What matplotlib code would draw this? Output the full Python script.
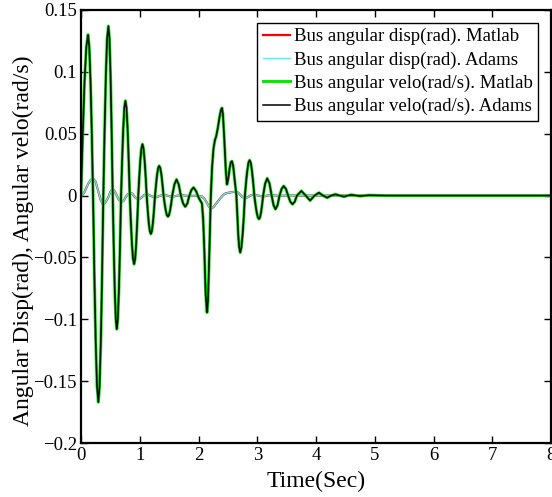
import matplotlib
matplotlib.use("Agg")
import matplotlib.pyplot as plt

# ---- data ----
velo_t = [0.000, 0.030, 0.060, 0.090, 0.120, 0.141, 0.1625, 0.184, 0.205,
          0.2275, 0.250, 0.2725, 0.295, 0.316, 0.3375, 0.359, 0.380,
          0.4015, 0.423, 0.4445, 0.466, 0.4845, 0.503, 0.5215, 0.540,
          0.557, 0.5745, 0.592, 0.609, 0.627, 0.6455, 0.664, 0.682,
          0.7005, 0.719, 0.7375, 0.756, 0.7745, 0.793, 0.8115, 0.830,
          0.8485, 0.867, 0.8855, 0.904, 0.922, 0.9395, 0.957, 0.975,
          0.993, 1.0105, 1.028, 1.046, 1.064, 1.082, 1.100, 1.118,
          1.136, 1.1535, 1.171, 1.189, 1.207, 1.2245, 1.242, 1.260,
          1.278, 1.2955, 1.313, 1.331, 1.3495, 1.368, 1.3865, 1.405,
          1.424, 1.4425, 1.461, 1.480, 1.498, 1.5165, 1.535, 1.553,
          1.590, 1.626, 1.663, 1.700, 1.738, 1.775, 1.810, 1.845,
          1.880, 1.916, 1.960, 2.000, 2.030, 2.060,
          2.080, 2.100, 2.122, 2.145, 2.162, 2.180, 2.195, 2.210,
          2.230, 2.255, 2.280, 2.300, 2.330, 2.360, 2.385, 2.400,
          2.415, 2.440, 2.465, 2.485, 2.505, 2.530, 2.550, 2.570,
          2.590, 2.610, 2.628, 2.645, 2.662, 2.677, 2.693, 2.710,
          2.730, 2.750, 2.770, 2.790, 2.810, 2.830, 2.850, 2.870,
          2.890, 2.910, 2.930, 2.950, 2.970, 2.990, 3.010, 3.030,
          3.048, 3.065, 3.083, 3.100, 3.135, 3.170, 3.208, 3.245,
          3.278, 3.310, 3.345, 3.380, 3.415, 3.450, 3.488, 3.525,
          3.563, 3.600, 3.638, 3.675, 3.750, 3.825, 3.900, 3.975,
          4.050, 4.120, 4.190, 4.260, 4.330, 4.405, 4.480, 4.540,
          4.600, 4.750, 4.900, 5.200, 8.000]
velo_v = [0.000, 0.050, 0.092, 0.120, 0.130, 0.120, 0.092, 0.050, 0.000,
          -0.064, -0.118, -0.154, -0.167, -0.154, -0.118, -0.064, 0.000,
          0.052, 0.097, 0.127, 0.137, 0.127, 0.097, 0.052, 0.000,
          -0.041, -0.076, -0.100, -0.108, -0.100, -0.076, -0.041, 0.000,
          0.029, 0.054, 0.071, 0.0766, 0.071, 0.054, 0.029, 0.000,
          -0.021, -0.039, -0.051, -0.0554, -0.051, -0.039, -0.021, 0.000,
          0.016, 0.029, 0.038, 0.0415, 0.038, 0.029, 0.016, 0.000,
          -0.012, -0.022, -0.0286, -0.031, -0.0286, -0.022, -0.012, 0.000,
          0.0092, 0.017, 0.0222, 0.024, 0.0222, 0.017, 0.0092, 0.000,
          -0.0065, -0.012, -0.0157, -0.017, -0.0157, -0.012, -0.0065, 0.000,
          0.009, 0.013, 0.009, 0.000, -0.0064, -0.009, -0.0064, 0.000,
          0.0046, 0.0065, 0.0035, -0.0015, -0.004, -0.0065,
          -0.020, -0.045, -0.080, -0.0945, -0.085, -0.055, -0.028, 0.000,
          0.022, 0.038, 0.045, 0.0475, 0.055, 0.064, 0.0695, 0.0708,
          0.066, 0.045, 0.020, 0.009, 0.013, 0.022, 0.027, 0.0278,
          0.024, 0.015, 0.007, 0.000, -0.018, -0.032, -0.042, -0.046,
          -0.042, -0.032, -0.018, 0.000, 0.011, 0.020, 0.0265, 0.0286,
          0.0265, 0.020, 0.011, 0.000, -0.0073, -0.0134, -0.0176, -0.019,
          -0.0176, -0.0134, -0.0073, 0.000, 0.0098, 0.0139, 0.0098, 0.000,
          -0.0078, -0.011, -0.0078, 0.000, 0.0054, 0.0077, 0.0054, 0.000,
          -0.005, -0.007, -0.005, 0.000, 0.0037, 0.000, -0.004, 0.000,
          0.0023, 0.000, -0.0017, 0.000, 0.001, 0.000, -0.0009, 0.000,
          0.0006, -0.0004, 0.0003, 0.000, 0.000]

disp_t = [0.000, 0.030, 0.060, 0.090, 0.120, 0.163, 0.205, 0.250, 0.295, 0.338,
          0.380, 0.423, 0.466, 0.503, 0.545, 0.575, 0.609, 0.645, 0.700, 0.730,
          0.756, 0.793, 0.850, 0.875, 0.904, 0.940, 0.990, 1.020, 1.046, 1.083,
          1.120, 1.189, 1.260, 1.331, 1.405, 1.480, 1.553, 1.626, 1.700, 1.775,
          1.845, 1.916, 2.000, 2.060, 2.100, 2.145, 2.180, 2.220, 2.260, 2.300,
          2.350, 2.400, 2.450, 2.500, 2.570, 2.640, 2.680, 2.710, 2.750, 2.790,
          2.830, 2.870, 2.910, 2.950, 3.030, 3.100, 3.170, 3.245, 3.310, 3.380,
          3.525, 3.675, 4.000, 8.000]
disp_v = [0.000, 0.0008, 0.003, 0.0062, 0.0092, 0.0126, 0.0139, 0.0112, 0.0032, -0.004,
          -0.0075, -0.005, -0.0012, 0.0033, 0.0051, 0.0035, 0.000, -0.0035, -0.005, -0.004,
          -0.0015, 0.001, 0.002, 0.0015, -0.0005, -0.0022, -0.003, -0.002, -0.0009, 0.0006,
          0.0012, -0.0003, -0.0017, -0.0004, 0.0008, -0.0002, -0.001, -0.0002, 0.0004, 0.000,
          -0.0005, -0.0002, -0.0003, -0.0008, -0.0025, -0.006, -0.009, -0.0105, -0.009, -0.0065,
          -0.0035, -0.0005, 0.0015, 0.0022, 0.0028, 0.0033, 0.0022, 0.0005, -0.0012, -0.002,
          -0.0015, -0.0003, 0.0005, 0.0008, -0.0002, -0.0008, 0.000, 0.0004, 0.000, -0.0003,
          0.0002, -0.0001, 0.000, 0.000]

# Matlab and Adams results coincide in the picture
disp_matlab, disp_adams = disp_v, disp_v
velo_matlab, velo_adams = velo_v, velo_v

labels = ["Bus angular disp(rad). Matlab",
          "Bus angular disp(rad). Adams",
          "Bus angular velo(rad/s). Matlab",
          "Bus angular velo(rad/s). Adams"]
xticks = [0, 1, 2, 3, 4, 5, 6, 7, 8]
yticks = [-0.2, -0.15, -0.1, -0.05, 0, 0.05, 0.1, 0.15]
yticklabels = ["\u22120.2", "\u22120.15", "\u22120.1", "\u22120.05", "0", "0.05", "0.1", "0.15"]

plt.rcParams['font.family'] = ['Liberation Serif', 'DejaVu Serif']

fig = plt.figure(figsize=(5.52, 4.97), dpi=100)
ax = fig.add_axes([81/552, 1-443/497, 470/552, 433/497])

ax.plot(disp_t, disp_matlab, color='#ff0000', lw=1.6, label=labels[0])
ax.plot(disp_t, disp_adams, color='#33ffff', lw=1.0, label=labels[1])
ax.plot(velo_t, velo_matlab, color='#00ee00', lw=2.2, label=labels[2])
ax.plot(velo_t, velo_adams, color='#000000', lw=1.1, label=labels[3])

ax.set_xlim(0, 8)
ax.set_ylim(-0.2, 0.15)
ax.set_xticks(xticks)
ax.set_xticklabels([str(x) for x in xticks])
ax.set_yticks(yticks)
ax.set_yticklabels(yticklabels)
ax.tick_params(direction='in', length=5, width=1, top=True, right=True,
               labelsize=13.5, pad=3)
for s in ax.spines.values():
    s.set_linewidth(1.6)

ax.set_xlabel("Time(Sec)", fontsize=17, labelpad=5)
ax.set_ylabel("Angular Disp(rad), Angular velo(rad/s)", fontsize=17)
ax.yaxis.set_label_coords(-0.101, 0.467)

leg = ax.legend(loc='upper right', fontsize=13.5, frameon=True, fancybox=False,
                framealpha=1, edgecolor='black', handlelength=1.45,
                handletextpad=0.2, labelspacing=0.32, borderpad=0.3,
                borderaxespad=0)
leg.get_frame().set_linewidth(1.0)
leg.set_bbox_to_anchor((538/552, 1 - 22.5/497), transform=fig.transFigure)

fig.savefig("out.png", dpi=100)
